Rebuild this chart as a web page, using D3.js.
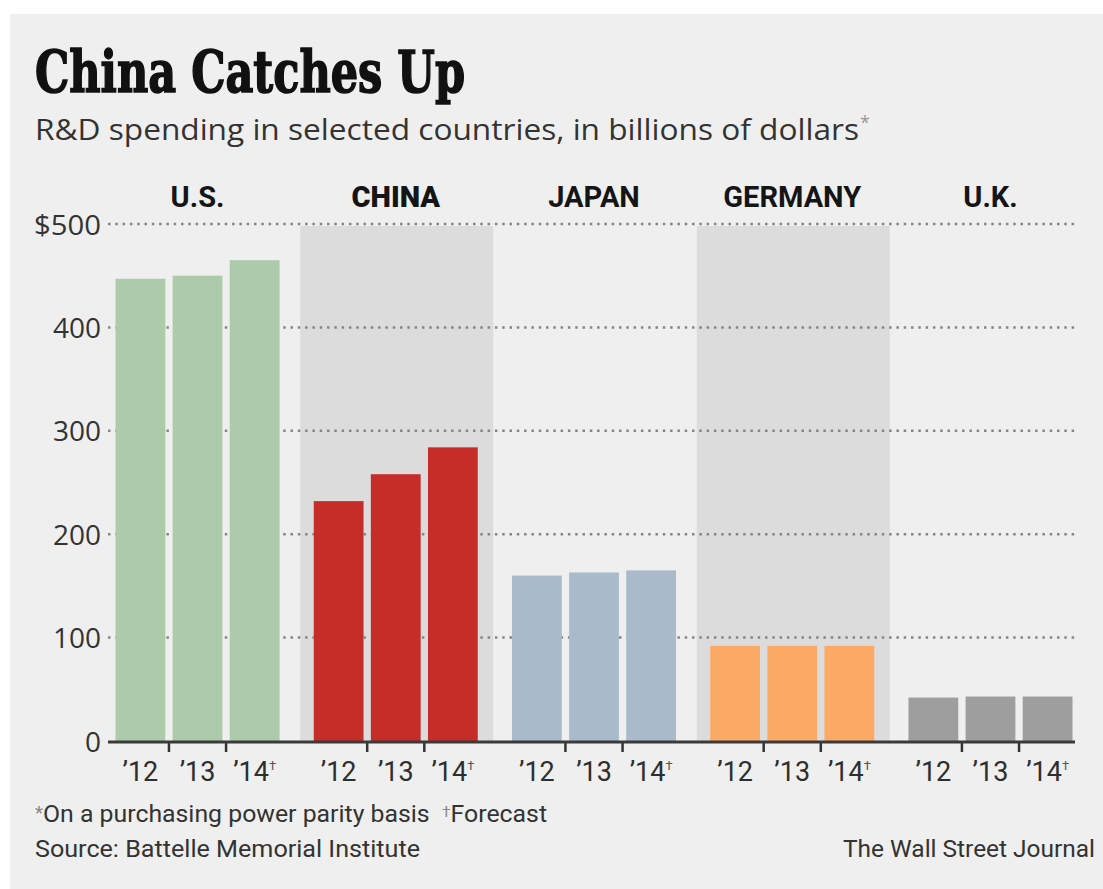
<!DOCTYPE html>
<html>
<head>
<meta charset="utf-8">
<script src="https://cdn.jsdelivr.net/npm/d3@7"></script>
<style>
  html, body { margin: 0; padding: 0; background: #ffffff; }
  svg { display: block; }
</style>
</head>
<body>
<script>
// ---- Data ----
const countries = ["U.S.", "CHINA", "JAPAN", "GERMANY", "U.K."];
const years = ["’12", "’13", "’14"];
const forecastYear = "’14";
const usValues = [447, 450, 465];
const chinaValues = [232, 258, 284];
const japanValues = [160, 163, 165];
const germanyValues = [92, 92, 92];
const ukValues = [42, 43, 43];
const seriesValues = [usValues, chinaValues, japanValues, germanyValues, ukValues];
const countryColors = ["#adcbab", "#c62d29", "#a9bbcb", "#fbaa65", "#9e9e9e"];
const shadedCountries = ["CHINA", "GERMANY"];
const yTicks = [0, 100, 200, 300, 400, 500];

const W = 1103, H = 889;
const svg = d3.select("body").append("svg").attr("width", W).attr("height", H);

// panel
svg.append("rect").attr("x", 10).attr("y", 14).attr("width", W - 10).attr("height", H - 14)
  .attr("fill", "#efefef");

// scales
const x0 = d3.scaleBand().domain(countries).range([115.5, 1072.5]).paddingInner(0.1726).paddingOuter(0);
const x1 = d3.scaleBand().domain(years).range([0, x0.bandwidth()]).paddingInner(0.128).paddingOuter(0);
const y = d3.scaleLinear().domain([0, 500]).range([741, 224]);

// shaded bands
svg.append("g").selectAll("rect").data(shadedCountries).join("rect")
  .attr("x", d => x0(d) - 13.5)
  .attr("width", x0.bandwidth() + 29)
  .attr("y", y(500) + 2)
  .attr("height", y(0) - y(500) - 2)
  .attr("fill", "#dcdcdc");

// gridlines
svg.append("g").selectAll("line").data(yTicks.filter(t => t > 0)).join("line")
  .attr("x1", 108).attr("x2", 1077)
  .attr("y1", d => y(d)).attr("y2", d => y(d))
  .attr("stroke", "#858585").attr("stroke-width", 2.5)
  .attr("stroke-dasharray", "2.5,4.8");

// y axis labels
const yAxis = d3.axisLeft(y).tickValues(yTicks).tickSize(0).tickPadding(0)
  .tickFormat(d => d === 500 ? "$500" : String(d));
const yg = svg.append("g").attr("transform", "translate(101,0)").call(yAxis);
yg.select(".domain").remove();
yg.selectAll("text")
  .attr("font-family", "'Open Sans', Lato, sans-serif")
  .attr("font-size", 28).attr("fill", "#333").attr("dy", "0.36em");
yg.selectAll(".tick").filter(d => d === 500).select("text")
  .attr("textLength", 67).attr("lengthAdjust", "spacingAndGlyphs");

// bars
const groups = svg.append("g").selectAll("g").data(countries).join("g")
  .attr("transform", d => `translate(${x0(d)},0)`);
groups.each(function(c, i) {
  const vals = seriesValues[i];
  d3.select(this).selectAll("rect").data(years.map((yr, j) => ({yr, v: vals[j]}))).join("rect")
    .attr("x", d => x1(d.yr))
    .attr("width", x1.bandwidth())
    .attr("y", d => y(d.v))
    .attr("height", d => y(0) - y(d.v))
    .attr("fill", countryColors[i]);
});

// baseline
svg.append("line").attr("x1", 108).attr("x2", 1075).attr("y1", y(0) + 1).attr("y2", y(0) + 1)
  .attr("stroke", "#3a3a3a").attr("stroke-width", 3);

// x axes per group
groups.each(function(c) {
  const g = d3.select(this);
  const ax = g.append("g").attr("transform", `translate(0,${y(0)})`)
    .call(d3.axisBottom(x1).tickSize(0).tickPadding(0));
  ax.select(".domain").remove();
  ax.selectAll("text").remove();
  ax.selectAll(".tick").append("text")
    .attr("y", 40)
    .attr("text-anchor", "middle")
    .attr("font-family", "Roboto, 'Open Sans', sans-serif")
    .attr("font-size", 27).attr("fill", "#2e2e2e")
    .each(function(d) {
      const t = d3.select(this);
      t.append("tspan").text(d);
      if (d === forecastYear) {
        t.append("tspan").text("†").attr("font-size", 13).attr("dy", -11).attr("fill", "#555");
      }
    });
  // separator ticks between bars
  g.append("g").selectAll("line").data(years.slice(1)).join("line")
    .attr("x1", d => x1(d) - x1.step() * x1.paddingInner() / 2)
    .attr("x2", d => x1(d) - x1.step() * x1.paddingInner() / 2)
    .attr("y1", y(0)).attr("y2", y(0) + 11)
    .attr("stroke", "#333").attr("stroke-width", 2.5);
});

// category labels
svg.append("g").selectAll("text").data(countries).join("text")
  .attr("x", d => x0(d) + x0.bandwidth() / 2)
  .attr("y", 207)
  .attr("text-anchor", "middle")
  .attr("font-family", "Roboto, 'Open Sans', sans-serif")
  .attr("font-weight", d => d === "CHINA" ? 900 : 700)
  .attr("font-size", 29)
  .attr("fill", "#151515")
  .text(d => d);

// title
svg.append("text").attr("x", 35).attr("y", 92)
  .attr("font-family", "'DejaVu Serif', 'Liberation Serif', serif")
  .attr("font-weight", 700).attr("font-size", 57).attr("fill", "#111")
  .attr("stroke", "#111").attr("stroke-width", 1.6)
  .attr("textLength", 430).attr("lengthAdjust", "spacingAndGlyphs")
  .text("China Catches Up");

// subtitle
svg.append("text").attr("x", 35).attr("y", 140)
  .attr("font-family", "'Open Sans', Lato, sans-serif")
  .attr("font-size", 29).attr("fill", "#333")
  .attr("textLength", 824).attr("lengthAdjust", "spacingAndGlyphs")
  .text("R&D spending in selected countries, in billions of dollars");
svg.append("text").attr("x", 860).attr("y", 129)
  .attr("font-family", "'Open Sans', sans-serif")
  .attr("font-size", 18).attr("fill", "#999").text("*");

// footnotes
const foot = svg.append("text").attr("x", 35).attr("y", 822)
  .attr("font-family", "Roboto, 'Open Sans', sans-serif")
  .attr("font-size", 24).attr("fill", "#333")
  .attr("textLength", 512).attr("lengthAdjust", "spacingAndGlyphs");
foot.append("tspan").text("*").attr("fill", "#888").attr("font-size", 18).attr("dy", -3);
foot.append("tspan").text("On a purchasing power parity basis").attr("dy", 3);
foot.append("tspan").text("†").attr("fill", "#888").attr("font-size", 15).attr("dx", 12).attr("dy", -5);
foot.append("tspan").text("Forecast").attr("dy", 5);

svg.append("text").attr("x", 35).attr("y", 857)
  .attr("font-family", "Roboto, 'Open Sans', sans-serif")
  .attr("font-size", 24).attr("fill", "#333")
  .attr("textLength", 385).attr("lengthAdjust", "spacingAndGlyphs")
  .text("Source: Battelle Memorial Institute");

svg.append("text").attr("x", 843).attr("y", 857)
  .attr("font-family", "Roboto, 'Open Sans', sans-serif")
  .attr("font-size", 24).attr("fill", "#333")
  .attr("textLength", 252).attr("lengthAdjust", "spacingAndGlyphs")
  .text("The Wall Street Journal");
</script>
</body>
</html>
